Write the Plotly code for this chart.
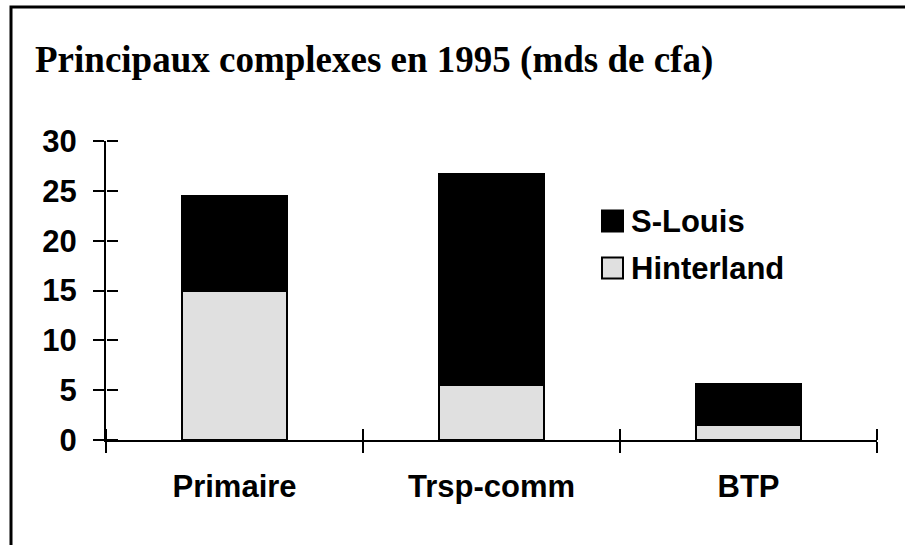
import plotly.graph_objects as go

# data (mds de cfa)
categories = ["Primaire", "Trsp-comm", "BTP"]
hinterland = [15.0, 5.5, 1.5]
saint_louis = [9.5, 21.2, 4.1]
series_names = ["S-Louis", "Hinterland"]
series_colors = ["#000000", "#e0e0e0"]
y_ticks = [0, 5, 10, 15, 20, 25, 30]

W, H = 905, 545
L, R, T, B = 106, 877, 141, 440   # plot area in pixels


def px(x):
    return (x - L) / (R - L)


def py(y):
    return (B - y) / (B - T)


sans = "Liberation Sans, Arial, sans-serif"

fig = go.Figure()
fig.add_trace(go.Bar(
    x=categories, y=hinterland, name="Hinterland",
    marker=dict(color="#e0e0e0", line=dict(color="black", width=2)),
    showlegend=False,
))
fig.add_trace(go.Bar(
    x=categories, y=saint_louis, name="S-Louis",
    marker=dict(color="black", line=dict(color="black", width=2)),
    showlegend=False,
))
# invisible helper so the overlay axes (inner half of the crossing ticks) get drawn
fig.add_trace(go.Scatter(
    x=categories, y=hinterland, xaxis="x2", yaxis="y2",
    mode="markers", marker=dict(opacity=0), hoverinfo="skip", showlegend=False,
))

axis_font = dict(family=sans, size=31, color="black", weight="bold")

fig.update_layout(
    width=W, height=H,
    margin=dict(l=L, r=W - R, t=T, b=H - B),
    paper_bgcolor="white", plot_bgcolor="white",
    barmode="stack", bargap=0.595,
    showlegend=False,
    title=dict(
        text="Principaux complexes en 1995 (mds de cfa)",
        font=dict(family="Liberation Serif, Times New Roman, serif", size=37,
                  color="black", weight="bold"),
        x=35 / W, xanchor="left", xref="container",
        y=1 - 59 / H, yanchor="middle", yref="container",
    ),
    xaxis=dict(
        type="category", categoryarray=categories, range=[-0.5, 2.5],
        showline=True, linecolor="black", linewidth=2,
        ticks="outside", ticklen=11, tickwidth=2, tickcolor="black",
        tickson="boundaries", tickfont=axis_font, ticklabelstandoff=18,
        showgrid=False, zeroline=False,
    ),
    yaxis=dict(
        range=[0, 30], tickvals=y_ticks,
        showline=True, linecolor="black", linewidth=2,
        ticks="outside", ticklen=11, tickwidth=2, tickcolor="black",
        tickfont=axis_font, ticklabelstandoff=10,
        showgrid=False, zeroline=False,
    ),
    # second pair of axes on the same lines, ticking the other way -> crossing ticks
    xaxis2=dict(
        type="category", categoryarray=categories, range=[-0.5, 2.5],
        overlaying="x", anchor="free", position=0, side="top",
        ticks="outside", ticklen=11, tickwidth=2, tickcolor="black",
        tickson="boundaries", showticklabels=False,
        showline=False, showgrid=False, zeroline=False,
    ),
    yaxis2=dict(
        range=[0, 30], tickvals=y_ticks,
        overlaying="y", anchor="free", position=0, side="right",
        ticks="outside", ticklen=11, tickwidth=2, tickcolor="black",
        showticklabels=False, showline=False, showgrid=False, zeroline=False,
    ),
)

# outer frame of the original picture (left and top edges visible)
fig.add_shape(type="rect", xref="paper", yref="paper",
              x0=px(11), x1=px(915), y0=py(555), y1=py(7),
              line=dict(color="black", width=3), fillcolor="rgba(0,0,0,0)",
              layer="above")

# legend drawn by hand so the swatches match the original size
legend_rows = [221, 268]
for name, color, yc in zip(series_names, series_colors, legend_rows):
    fig.add_shape(type="rect", xref="paper", yref="paper",
                  x0=px(602), x1=px(623), y0=py(yc + 10.5), y1=py(yc - 10.5),
                  line=dict(color="black", width=2), fillcolor=color)
    fig.add_annotation(text=name, xref="paper", yref="paper",
                       x=px(629), y=py(yc), xanchor="left", yanchor="middle",
                       showarrow=False,
                       font=dict(family=sans, size=31, color="black", weight="bold"))

# the page body has a default 8px margin; drop it so the figure sits at 0,0
fig.write_html("out.html", config={"displayModeBar": False},
               post_script="document.body.style.margin='0';")
